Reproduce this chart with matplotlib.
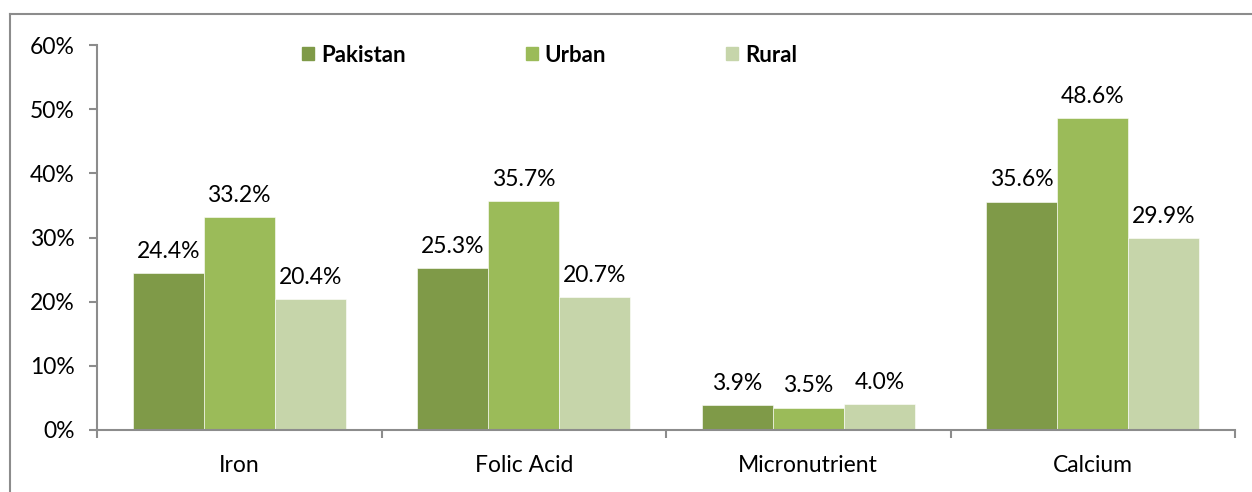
import matplotlib.pyplot as plt
import numpy as np
from matplotlib.patches import Patch
from matplotlib.ticker import FixedLocator

categories = ["Iron", "Folic Acid", "Micronutrient", "Calcium"]
series = ["Pakistan", "Urban", "Rural"]
pakistan = [24.4, 25.3, 3.9, 35.6]
urban = [33.2, 35.7, 3.5, 48.6]
rural = [20.4, 20.7, 4.0, 29.9]
colors = ["#7F9A48", "#9BBB59", "#C6D5AA"]

plt.rcParams['font.family'] = ['Lato', 'DejaVu Sans']
fig = plt.figure(figsize=(12.52, 4.92), dpi=100)
ax = fig.add_axes([97/1252, 1-430/492, (1235-97)/1252, (430-45)/492])

# outer chart border (left and top visible)
fig.add_artist(plt.Line2D([10/1252, 10/1252], [0, 1-14/492], transform=fig.transFigure, color="#8c8c8c", lw=1.5))
fig.add_artist(plt.Line2D([10/1252, 1], [1-14/492, 1-14/492], transform=fig.transFigure, color="#8c8c8c", lw=1.5))

fs = 16.5
x = np.arange(len(categories))
w = 0.25
for i, (vals, c) in enumerate(zip([pakistan, urban, rural], colors)):
    pos = x + (i - 1) * w
    ax.bar(pos, vals, width=w, color=c, edgecolor="white", linewidth=0.4)
    for p, v in zip(pos, vals):
        ax.annotate(f"{v:.1f}%", (p, v), xytext=(0, 8), textcoords="offset points",
                    ha="center", va="bottom", fontsize=fs)

ax.set_xlim(-0.5, len(categories) - 0.5)
ax.set_ylim(0, 60)
ax.set_yticks(range(0, 61, 10))
ax.set_yticklabels([f"{t}%" for t in range(0, 61, 10)], fontsize=fs)
ax.xaxis.set_major_locator(FixedLocator(np.arange(-0.5, len(categories), 1)))
ax.set_xticklabels([])
ax.xaxis.set_minor_locator(FixedLocator(x))
ax.set_xticklabels(categories, minor=True, fontsize=fs)
ax.tick_params(axis="x", which="minor", length=0, pad=18)
ax.tick_params(axis="x", which="major", length=6, color="#8c8c8c", width=1.5)
ax.tick_params(axis="y", length=6, color="#8c8c8c", width=1.5, pad=10)
for s in ["top", "right"]:
    ax.spines[s].set_visible(False)
for s in ["left", "bottom"]:
    ax.spines[s].set_color("#8c8c8c")
    ax.spines[s].set_linewidth(1.5)

handles = [Patch(color=c, label=s) for s, c in zip(series, colors)]
ax.legend(handles=handles, ncol=3, loc="center left", bbox_to_anchor=(302/1252, 1-55/492),
          bbox_transform=fig.transFigure, frameon=False, handlelength=0.55, handleheight=0.55,
          handletextpad=0.3, columnspacing=5.4, borderaxespad=0, borderpad=0,
          prop={"weight": "bold", "size": 16})

plt.savefig("out.png")
